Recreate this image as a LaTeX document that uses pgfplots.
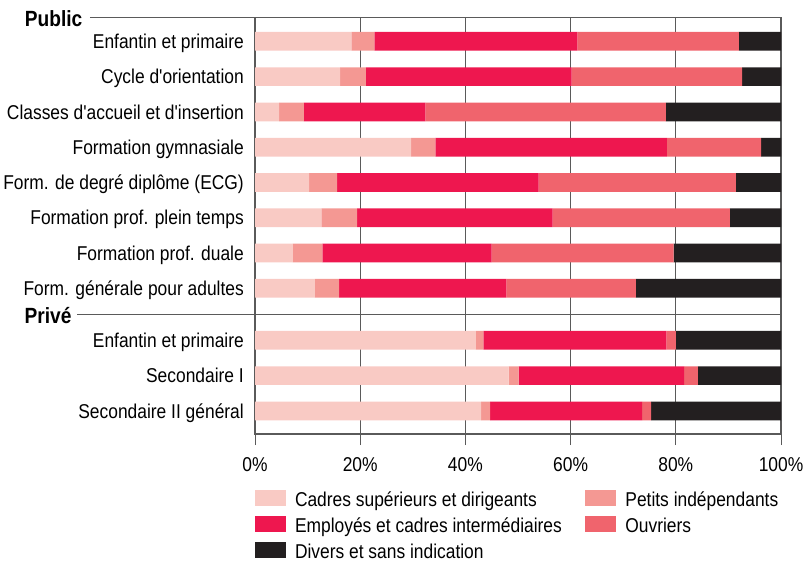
\documentclass[border=0pt]{standalone}
\usepackage{pgfplots}
\usepackage{pgfplotstable}
\pgfplotsset{compat=1.18}
\usepackage{fontspec}
\newfontfamily\cond{Liberation Sans}[FakeStretch=0.87]
\definecolor{cA}{HTML}{F9CAC4}
\definecolor{cB}{HTML}{F49893}
\definecolor{cC}{HTML}{EE174F}
\definecolor{cD}{HTML}{F0646D}
\definecolor{cE}{HTML}{231F20}
\definecolor{gridc}{HTML}{5A5A5A}
\pgfplotstableread{
y a b c d e
41.3 18.3 4.4 38.6 30.7 8.0
76.6 16.2 4.9 39.1 32.4 7.4
111.9 4.6 4.7 23.1 45.7 21.9
147.2 29.7 4.6 44.0 17.9 3.8
182.5 10.3 5.3 38.3 37.5 8.6
217.7 12.6 6.8 37.2 33.7 9.7
253.0 7.2 5.6 32.2 34.6 20.4
288.3 11.4 4.6 31.8 24.6 27.6
340.3 42.0 1.4 34.8 1.8 20.0
375.6 48.2 1.9 31.5 2.6 15.8
410.9 43.0 1.7 28.9 1.7 24.7
}\data
\begin{document}
\cond\fontsize{20}{24}\selectfont
\begin{tikzpicture}
\begin{axis}[
  scale only axis, width=526pt, height=416.3pt,
  xmin=0, xmax=100, ymin=17.7, ymax=434, y dir=reverse,
  xbar stacked, bar width=18.7,
  axis line style={draw=gridc, line width=1.2pt},
  xtick={0,20,40,60,80,100},
  xticklabels={0\%,20\%,40\%,60\%,80\%,100\%},
  xmajorgrids, grid style={gridc, line width=1pt},
  tick align=outside, xtick pos=bottom, ytick pos=left,
  major tick length=11pt,
  tick style={gridc, line width=1pt},
  ytick={41.3,76.6,111.9,147.2,182.5,217.7,253.0,288.3,340.3,375.6,410.9},
  yticklabels={{Enfantin et primaire},{Cycle d'orientation},{Classes d'accueil et d'insertion},{Formation gymnasiale},{Form. de degré diplôme (ECG)},{Formation prof. plein temps},{Formation prof. duale},{Form. générale pour adultes},{Enfantin et primaire},{Secondaire I},{Secondaire II général}},
  y tick style={draw=none},
  y tick label style={anchor=base east, inner sep=0pt, yshift=-7.2pt},
  x tick label style={anchor=north, inner sep=0pt, yshift=-12pt},
  clip=false,
  legend columns=2,
  legend cell align=left,
  legend image code/.code={\fill[#1] (0pt,-5pt) rectangle (31pt,11pt);},
  legend style={draw=none, fill=none, inner sep=0pt, outer sep=0pt,
    at={(axis description cs:0,0)}, anchor=north west, yshift=-56pt,
    row sep=5pt,
    nodes={inner sep=0pt, text height=15pt, text depth=5pt},
    /tikz/every odd column/.append style={column sep=9pt},
    /tikz/every even column/.append style={column sep=23.5pt}},
]
\addplot[fill=cA, draw=none] table[x=a, y=y]{\data};
\addlegendentry{Cadres supérieurs et dirigeants}
\addplot[fill=cB, draw=none] table[x=b, y=y]{\data};
\addlegendentry{Petits indépendants}
\addplot[fill=cC, draw=none] table[x=c, y=y]{\data};
\addlegendentry{Employés et cadres intermédiaires}
\addplot[fill=cD, draw=none] table[x=d, y=y]{\data};
\addlegendentry{Ouvriers}
\addplot[fill=cE, draw=none] table[x=e, y=y]{\data};
\addlegendentry{Divers et sans indication}
\draw[gridc, line width=1.2pt] (axis cs:-31.37,17.7) -- (axis cs:0,17.7);
\draw[gridc, line width=1.2pt] (axis cs:-33.84,314.3) -- (axis cs:100,314.3);
\node[anchor=base east, inner sep=0pt, font=\cond\bfseries\fontsize{22}{26}\selectfont, yshift=-9pt] at (axis cs:-32.79,17.7) {Public};
\node[anchor=base east, inner sep=0pt, font=\cond\bfseries\fontsize{22}{26}\selectfont, yshift=-9.5pt] at (axis cs:-34.85,314.3) {Privé};
\coordinate (bbsw) at (axis cs:-48.48,563);
\coordinate (bbne) at (axis cs:104.75,0);
\end{axis}
\pgfresetboundingbox
\useasboundingbox (bbsw) rectangle (bbne);
\end{tikzpicture}
\end{document}
